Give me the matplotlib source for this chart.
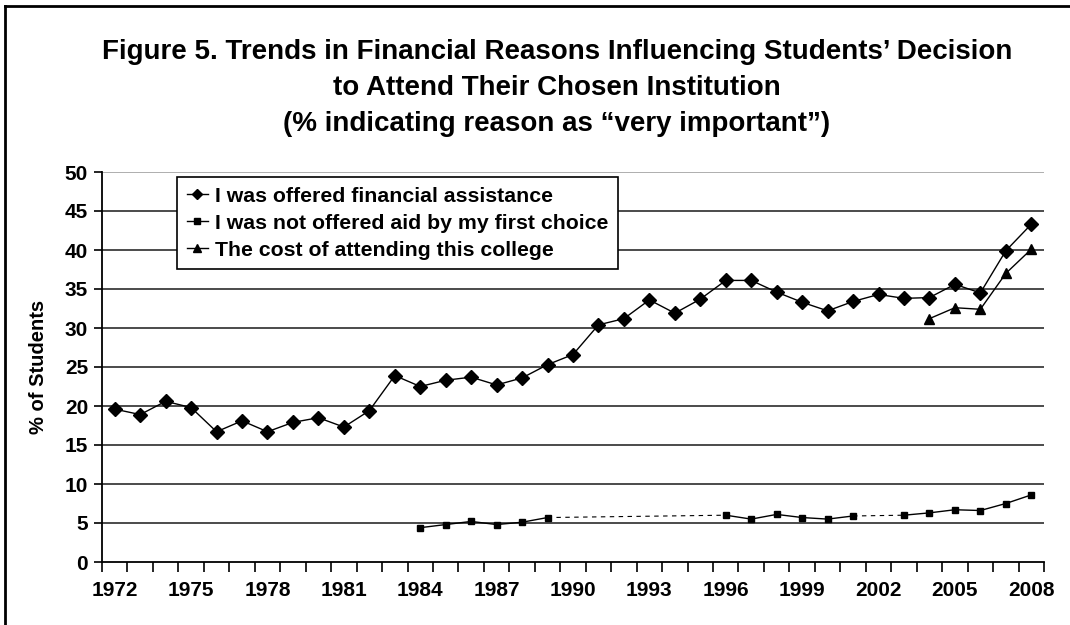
import numpy as np
import matplotlib
matplotlib.use("Agg")
import matplotlib.pyplot as plt
from matplotlib.lines import Line2D

plt.rcParams['font.family'] = ['Liberation Sans', 'DejaVu Sans']

years = list(range(1972, 2009))
nan = np.nan

offered_assistance = [19.6, 18.9, 20.6, 19.8, 16.7, 18.1, 16.7, 17.9, 18.5, 17.3,
                      19.4, 23.9, 22.5, 23.3, 23.7, 22.7, 23.6, 25.3, 26.6, 30.4,
                      31.2, 33.6, 31.9, 33.7, 36.1, 36.1, 34.6, 33.3, 32.2, 33.4,
                      34.3, 33.8, 33.9, 35.6, 34.5, 39.9, 43.3]
not_offered_aid = [nan, nan, nan, nan, nan, nan, nan, nan, nan, nan,
                   nan, nan, 4.4, 4.8, 5.2, 4.8, 5.1, 5.7, nan, nan,
                   nan, nan, nan, nan, 6.0, 5.5, 6.1, 5.7, 5.5, 5.9,
                   nan, 6.0, 6.3, 6.7, 6.6, 7.5, 8.6]
cost_attending = [nan] * 32 + [31.2, 32.6, 32.4, 37.0, 40.1]

labels = ["I was offered financial assistance",
          "I was not offered aid by my first choice",
          "The cost of attending this college"]
title = ("Figure 5. Trends in Financial Reasons Influencing Students\u2019 Decision\n"
         "to Attend Their Chosen Institution\n"
         "(% indicating reason as \u201cvery important\u201d)")

fig = plt.figure(figsize=(10.7, 6.25), dpi=100)
ax = fig.add_axes([102/1070, 1-562/625, 942/1070, 390/625])

x = np.arange(len(years))

def plot_series(vals, marker, ms):
    v = np.array(vals, dtype=float)
    ax.plot(x, v, color='black', lw=1.0, marker=marker, ms=ms, mfc='black', mec='black', zorder=3)
    # dashed connectors across gaps
    idx = np.where(~np.isnan(v))[0]
    for a, b in zip(idx[:-1], idx[1:]):
        if b - a > 1:
            ax.plot([x[a], x[b]], [v[a], v[b]], color='black', lw=0.8, ls=(0, (4, 4)), zorder=2)

plot_series(offered_assistance, 'D', 6.8)
plot_series(not_offered_aid, 's', 5)
plot_series(cost_attending, '^', 7.5)

ax.set_xlim(-0.5, len(years) - 0.5)
ax.set_ylim(0, 50)
ax.set_yticks(np.arange(0, 51, 5))
for yv in np.arange(5, 51, 5):
    ax.axhline(yv, color='#1a1a1a' if yv < 50 else '#999999', lw=1.1, zorder=1)

ax.set_xticks(x[::3])
ax.set_xticklabels([str(y) for y in years[::3]])
ax.set_xticks(np.arange(-0.5, len(years)), minor=True)
ax.tick_params(axis='x', which='major', length=0, pad=14, labelsize=15)
ax.tick_params(axis='x', which='minor', length=7, width=1.2, direction='out')
ax.tick_params(axis='y', length=6, width=1.2, pad=4, labelsize=15)
for lab in ax.get_xticklabels() + ax.get_yticklabels():
    lab.set_fontweight('bold')

for s in ['top', 'right']:
    ax.spines[s].set_visible(False)
ax.spines['left'].set_linewidth(1.3)
ax.spines['bottom'].set_linewidth(1.3)

ax.set_ylabel("% of Students", fontsize=14.5, fontweight='bold', labelpad=12)

handles = [Line2D([], [], color='black', lw=1, marker='D', ms=5.5),
           Line2D([], [], color='black', lw=1, marker='s', ms=4.5),
           Line2D([], [], color='black', lw=1, marker='^', ms=6)]
leg = ax.legend(handles, labels, loc='upper left', bbox_to_anchor=(0.0796, 0.987),
                borderaxespad=0, fancybox=False, framealpha=1, edgecolor='black',
                prop={'weight': 'bold', 'size': 15.3}, handlelength=1.0, handletextpad=0.35,
                labelspacing=0.38, borderpad=0.45, numpoints=1)
leg.get_frame().set_linewidth(1.2)

fig.text(557/1070, 1-39/625, title, ha='center', va='top', fontsize=20,
         fontweight='bold', linespacing=1.5)

# outer frame (left and top edges)
fig.add_artist(Line2D([5/1070, 5/1070], [0, 1-6/625], color='black', lw=2, transform=fig.transFigure))
fig.add_artist(Line2D([5/1070, 1], [1-6/625, 1-6/625], color='black', lw=2, transform=fig.transFigure))

fig.savefig("out.png", dpi=100)
